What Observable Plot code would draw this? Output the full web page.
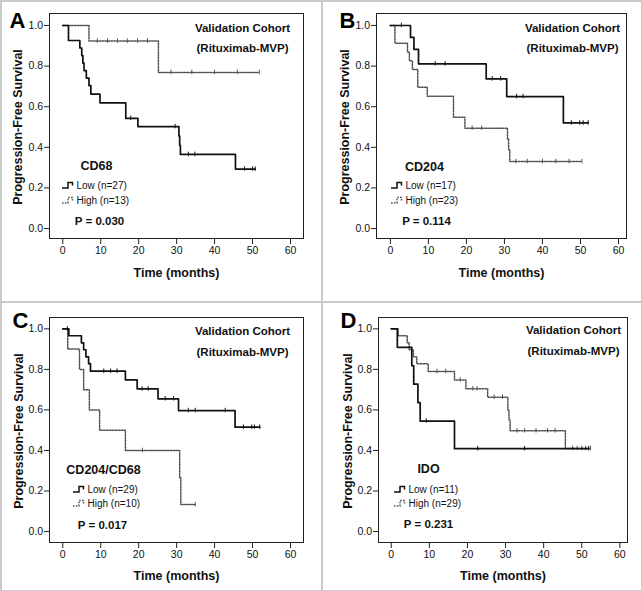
<!DOCTYPE html>
<html><head><meta charset="utf-8">
<script src="https://cdn.jsdelivr.net/npm/d3@7"></script>
<script src="https://cdn.jsdelivr.net/npm/@observablehq/plot@0.6"></script>
<style>
body{margin:0;background:#fff;}
#fig{position:relative;width:642px;height:591px;overflow:hidden;background:#fff;}
.p{position:absolute;}
.ln{position:absolute;background:#cacaca;}
</style></head><body><div id="fig"></div>
<script>
// ---------- tick labels ----------
const xTicks = [0, 10, 20, 30, 40, 50, 60];
const yTicks = [0, 0.2, 0.4, 0.6, 0.8, 1.0];
const yTickLabels = ["0.0", "0.2", "0.4", "0.6", "0.8", "1.0"];
const xLabel = "Time (months)";
const yLabel = "Progression-Free Survival";
const cohortLines = ["Validation Cohort", "(Rituximab-MVP)"];

// ---------- panel texts ----------
const panelLetters = ["A", "B", "C", "D"];
const markers = ["CD68", "CD204", "CD204/CD68", "IDO"];
const lowLabels = ["Low (n=27)", "Low (n=17)", "Low (n=29)", "Low (n=11)"];
const highLabels = ["High (n=13)", "High (n=23)", "High (n=10)", "High (n=29)"];
const pValues = ["P = 0.030", "P = 0.114", "P = 0.017", "P = 0.231"];

// ---------- A: CD68 ----------
const A_lowTime = [0, 1.5, 4.5, 5.0, 5.3, 5.6, 6.2, 6.9, 7.4, 9.8, 16.6, 19.8, 30.6, 30.8, 31.0, 45.5, 50.7];
const A_lowSurv = [1, 0.926, 0.889, 0.852, 0.815, 0.778, 0.741, 0.704, 0.662, 0.619, 0.543, 0.502, 0.456, 0.41, 0.365, 0.293, 0.293];
const A_lowCens = [17.9, 29.6, 33.1, 34.8, 47.9, 50.0, 50.7];
const A_highTime = [0, 6.9, 25.2, 51.8];
const A_highSurv = [1, 0.923, 0.769, 0.769];
const A_highCens = [9.1, 11.8, 14.4, 17.0, 19.7, 22.3, 28.5, 34.0, 40.0, 46.0, 51.8];

// ---------- B: CD204 ----------
const B_lowTime = [0, 5.3, 6.2, 7.4, 25.2, 30.6, 45.5, 52.0];
const B_lowSurv = [1, 0.941, 0.882, 0.811, 0.737, 0.650, 0.52, 0.52];
const B_lowCens = [2.9, 11.8, 14.4, 26.8, 29.0, 33.2, 34.9, 47.6, 49.8, 50.7, 52.0];
const B_highTime = [0, 1.2, 4.5, 5.0, 5.8, 7.2, 9.7, 16.6, 19.6, 30.8, 31.1, 31.4, 50.4];
const B_highSurv = [1, 0.913, 0.870, 0.826, 0.783, 0.696, 0.652, 0.548, 0.494, 0.44, 0.385, 0.33, 0.33];
const B_highCens = [21.5, 24.0, 33.0, 36.0, 40.0, 43.5, 47.0, 50.4];

// ---------- C: CD204/CD68 ----------
const C_lowTime = [0, 1.6, 4.9, 5.5, 6.1, 6.8, 7.3, 16.5, 19.6, 25.1, 30.5, 45.4, 51.9];
const C_lowSurv = [1, 0.966, 0.931, 0.897, 0.862, 0.828, 0.791, 0.748, 0.704, 0.655, 0.597, 0.515, 0.515];
const C_lowCens = [1.2, 10.8, 12.6, 14.3, 20.9, 22.5, 27.0, 29.2, 33.1, 34.9, 42.8, 47.6, 49.8, 50.5, 51.9];
const C_highTime = [0, 1.3, 4.4, 5.5, 7.0, 9.7, 16.5, 30.8, 31.1, 34.9];
const C_highSurv = [1, 0.9, 0.8, 0.7, 0.6, 0.5, 0.4, 0.267, 0.133, 0.133];
const C_highCens = [21.0, 34.9];

// ---------- D: IDO ----------
const D_lowTime = [0, 1.6, 5.4, 5.9, 7.0, 7.6, 16.6, 51.8];
const D_lowSurv = [1, 0.909, 0.818, 0.727, 0.636, 0.545, 0.409, 0.409];
const D_lowCens = [9.2, 22.7, 35.0, 51.8];
const D_highTime = [0, 1.8, 4.2, 4.7, 5.8, 6.7, 9.7, 16.6, 19.6, 25.3, 30.6, 30.9, 31.2, 45.7, 52.3];
const D_highSurv = [1, 0.966, 0.931, 0.897, 0.862, 0.828, 0.79, 0.748, 0.704, 0.663, 0.60, 0.55, 0.497, 0.41, 0.41];
const D_highCens = [12.0, 14.3, 18.1, 21.4, 22.5, 27.0, 29.2, 33.0, 35.0, 38.0, 41.0, 43.0, 47.6, 48.8, 50.0, 51.0, 52.3];

const series = [
  {lowT: A_lowTime, lowS: A_lowSurv, lowC: A_lowCens, highT: A_highTime, highS: A_highSurv, highC: A_highCens},
  {lowT: B_lowTime, lowS: B_lowSurv, lowC: B_lowCens, highT: B_highTime, highS: B_highSurv, highC: B_highCens},
  {lowT: C_lowTime, lowS: C_lowSurv, lowC: C_lowCens, highT: C_highTime, highS: C_highSurv, highC: C_highCens},
  {lowT: D_lowTime, lowS: D_lowSurv, lowC: D_lowCens, highT: D_highTime, highS: D_highSurv, highC: D_highCens}
];

// ---------- layout (positions/sizes) ----------
const layout = [
  {left: 0, top: 0, w: 322, h: 302, ml: 49, mr: 19, mt: 13, mb: 64, xd: [-3.5, 63.43], yd: [-0.049, 1.059],
   val: [193, 15, 35], lab: [47, 152], leg: [27, 172, 187], pv: [50, 208], letter: [-40, 14], ylab: -32, xlab: 34},
  {left: 322, top: 0, w: 320, h: 302, ml: 54, mr: 16, mt: 13, mb: 64, xd: [-3.65, 62.1], yd: [-0.049, 1.059],
   val: [196, 15, 35], lab: [48, 153], leg: [29, 172, 187], pv: [50, 208], letter: [-37, 14], ylab: -32, xlab: 34},
  {left: 0, top: 302, w: 322, h: 289, ml: 49, mr: 19, mt: 15, mb: 49, xd: [-3.5, 63.43], yd: [-0.054, 1.056],
   val: [193, 14, 35], lab: [54, 152], leg: [38, 172, 186], pv: [53, 208], letter: [-37, 10], ylab: -31, xlab: 33},
  {left: 322, top: 302, w: 320, h: 289, ml: 56, mr: 15, mt: 15, mb: 49, xd: [-3.34, 62.0], yd: [-0.054, 1.056],
   val: [195, 13, 34], lab: [50, 151], leg: [30, 172, 186], pv: [50, 207], letter: [-38, 10], ylab: -31, xlab: 33}
];

const FONT = "'Liberation Sans', Arial, Helvetica, sans-serif";
const SOLID = "#111";
const DOT = "#555";
const DASH = "1.6,1.3";

function stepAt(times, survs, t) {
  let s = survs[0];
  for (let i = 0; i < times.length; i++) if (times[i] <= t) s = survs[i];
  return s;
}

function glyph(dx, dy, stroke, dash) {
  return (index, scales, values, dim) => {
    const x0 = dim.marginLeft + dx, y = dim.marginTop + dy;
    const g = d3.create("svg:path")
      .attr("d", `M${x0},${y + 3}H${x0 + 6}V${y - 2.5}H${x0 + 10.5}V${y + 0.5}`)
      .attr("fill", "none").attr("stroke", stroke).attr("stroke-width", 1.5);
    if (dash) g.attr("stroke-dasharray", dash);
    return g.node();
  };
}

function txt(s, dx, dy, o = {}) {
  return Plot.text([s], {frameAnchor: "top-left", dx, dy, textAnchor: "middle", lineAnchor: "middle", fill: "#111", ...o});
}

const fig = document.getElementById("fig");

layout.forEach((L, k) => {
  const S = series[k];
  const low = S.lowT.map((t, i) => ({t, s: S.lowS[i]}));
  const high = S.highT.map((t, i) => ({t, s: S.highS[i]}));
  const lowC = S.lowC.map(t => ({t, s: stepAt(S.lowT, S.lowS, t)}));
  const highC = S.highC.map(t => ({t, s: stepAt(S.highT, S.highS, t)}));
  const chart = Plot.plot({
    width: L.w, height: L.h,
    marginLeft: L.ml, marginRight: L.mr, marginTop: L.mt, marginBottom: L.mb,
    x: {domain: L.xd}, y: {domain: L.yd},
    style: {fontFamily: FONT, fontSize: "10.5px", background: "white", color: "#111", overflow: "visible"},
    marks: [
      Plot.frame({stroke: "#222", strokeWidth: 1}),
      Plot.axisX(xTicks, {tickSize: 6, tickPadding: 2.5, label: null, fontSize: 10.5, tickFormat: d => String(d), stroke: "#222"}),
      Plot.axisY(yTicks, {tickSize: 5, tickPadding: 1.5, label: null, fontSize: 10.5, tickFormat: d => yTickLabels[yTicks.indexOf(d)], stroke: "#222"}),
      Plot.line(high, {x: "t", y: "s", curve: "step-after", stroke: DOT, strokeWidth: 1.5, strokeDasharray: DASH}),
      Plot.ruleX(highC, {x: "t", y1: d => d.s - 0.011, y2: d => d.s + 0.011, stroke: DOT, strokeWidth: 1}),
      Plot.line(low, {x: "t", y: "s", curve: "step-after", stroke: SOLID, strokeWidth: 1.7}),
      Plot.ruleX(lowC, {x: "t", y1: d => d.s - 0.011, y2: d => d.s + 0.011, stroke: SOLID, strokeWidth: 1}),
      // axis titles
      Plot.text([yLabel], {frameAnchor: "left", dx: L.ylab, dy: 1, rotate: -90, textAnchor: "middle", lineAnchor: "middle", fontWeight: "bold", fontSize: 12.5, fill: "#111"}),
      Plot.text([xLabel], {frameAnchor: "bottom", dy: L.xlab, textAnchor: "middle", lineAnchor: "middle", fontWeight: "bold", fontSize: 12.5, fill: "#111"}),
      // panel letter
      Plot.text([panelLetters[k]], {frameAnchor: "top-left", dx: L.letter[0], dy: L.letter[1], textAnchor: "start", lineAnchor: "bottom", fontWeight: "bold", fontSize: 22, fill: "#000"}),
      // cohort
      txt(cohortLines[0], L.val[0], L.val[1], {fontWeight: "bold", fontSize: 11.5}),
      txt(cohortLines[1], L.val[0], L.val[2], {fontWeight: "bold", fontSize: 11.5}),
      // marker
      txt(markers[k], L.lab[0], L.lab[1], {fontWeight: "bold", fontSize: 12.5}),
      // legend
      glyph(L.leg[0] - 14, L.leg[1], SOLID, null),
      glyph(L.leg[0] - 14, L.leg[2], DOT, DASH),
      txt(lowLabels[k], L.leg[0], L.leg[1], {textAnchor: "start", fontSize: 10}),
      txt(highLabels[k], L.leg[0], L.leg[2], {textAnchor: "start", fontSize: 10}),
      // p value
      txt(pValues[k], L.pv[0], L.pv[1], {fontWeight: "bold", fontSize: 11.5})
    ]
  });
  const wrap = document.createElement("div");
  wrap.className = "p";
  wrap.style.left = L.left + "px";
  wrap.style.top = L.top + "px";
  wrap.appendChild(chart);
  fig.appendChild(wrap);
});

// panel borders
[[0, 0, 642, 1.5], [0, 589.5, 642, 1.5], [0, 0, 1.5, 591], [640.5, 0, 1.5, 591], [321, 0, 1.5, 591], [0, 301, 642, 1.5]].forEach(([x, y, w, h]) => {
  const d = document.createElement("div");
  d.className = "ln";
  Object.assign(d.style, {left: x + "px", top: y + "px", width: w + "px", height: h + "px"});
  fig.appendChild(d);
});
</script></body></html>
